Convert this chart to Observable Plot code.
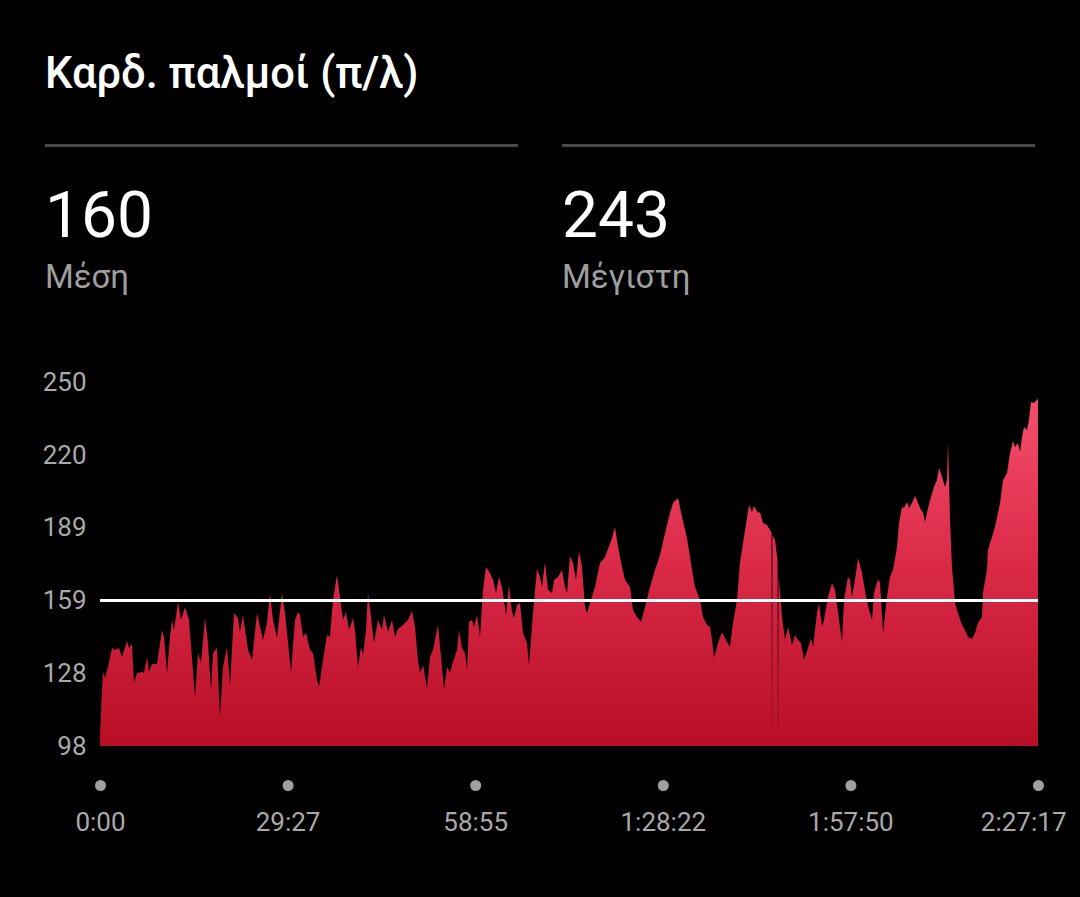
<!DOCTYPE html>
<html>
<head>
<meta charset="utf-8">
<script src="https://cdn.jsdelivr.net/npm/d3@7"></script>
<script src="https://cdn.jsdelivr.net/npm/@observablehq/plot@0.6"></script>
<style>
  html, body { margin: 0; padding: 0; background: #000; }
  body { width: 1080px; height: 897px; position: relative; overflow: hidden; font-family: Roboto, "Noto Sans", sans-serif; }
  .abs { position: absolute; line-height: 1; white-space: nowrap; }
  #title { left: 45px; top: 52px; font-size: 43.5px; font-weight: 500; color: #fff; }
  .sep { position: absolute; top: 144px; height: 3px; width: 473px; background: #474747; }
  .val { font-size: 64px; font-weight: 400; color: #fff; top: 184px; }
  .lab { font-size: 33px; color: #9e9e9e; top: 260px; }
  #chart { position: absolute; left: 0; top: 340px; }
</style>
</head>
<body>
<div id="title" class="abs"></div>
<div class="sep" style="left:45px"></div>
<div class="sep" style="left:562px"></div>
<div id="v1" class="abs val" style="left:45px"></div>
<div id="l1" class="abs lab" style="left:45px"></div>
<div id="v2" class="abs val" style="left:562px"></div>
<div id="l2" class="abs lab" style="left:562px"></div>
<div id="chart"></div>
<script>
// ---- text ----
const titleText = "Καρδ. παλμοί (π/λ)";
const statValues = ["160", "243"];
const statLabels = ["Μέση", "Μέγιστη"];

// ---- axes ----
const totalMinutes = 147.283; // 2:27:17
const xTickValues = [0, 29.457, 58.913, 88.370, 117.827, 147.283];
const xTickLabels = ["0:00", "29:27", "58:55", "1:28:22", "1:57:50", "2:27:17"];
const yDomain = [98, 250];
const yTickValues = [98, 128.4, 158.8, 189.2, 219.6, 250];
const yTickLabels = ["98", "128", "159", "189", "220", "250"];
const meanLineValue = 159;

// ---- series (minutes, bpm) ----
const timeMin = [0,0.31,0.47,0.79,1.26,1.88,2.36,2.98,3.45,4.24,4.55,5.02,5.34,5.81,6.59,6.91,7.38,7.69,8.17,8.95,9.74,10.05,10.52,10.99,11.31,11.62,12.25,12.72,13.35,13.97,14.92,15.39,15.86,16.49,16.96,17.43,17.74,18.37,18.84,19.31,19.94,20.41,21.04,21.67,21.98,22.45,23.24,23.87,24.65,25.59,26.22,26.69,27.16,27.79,28.58,29.05,29.99,30.62,31.09,31.40,31.88,32.35,32.97,33.45,34.07,34.39,35.02,35.64,36.11,36.59,37.21,37.68,38.16,38.63,39.10,39.73,40.04,40.51,40.98,41.30,41.77,42.08,42.55,43.02,43.65,44.28,44.59,45.22,45.85,46.32,46.79,47.58,48.36,48.99,49.46,49.93,50.25,50.72,51.35,51.82,52.29,53.07,53.70,54.02,54.49,54.96,55.27,56.06,56.37,56.84,57.31,57.63,57.94,58.41,58.73,59.20,59.67,60.14,60.61,61.24,61.71,62.18,62.65,63.12,63.75,64.22,64.69,65.01,65.48,65.95,66.42,67.05,67.36,67.99,68.62,69.09,69.40,69.87,70.34,70.97,71.29,71.92,72.54,73.01,73.33,73.80,74.27,74.74,75.21,75.68,76.15,76.47,76.94,77.72,78.51,79.30,79.77,80.39,80.87,81.34,81.96,82.44,83.22,83.69,84.32,84.95,85.58,86.36,87.15,87.93,88.72,89.50,89.97,90.76,91.39,92.17,92.96,93.43,94.21,94.68,95.31,95.78,96.10,96.41,97.04,97.66,98.29,98.92,99.39,100.02,100.49,101.28,101.91,102.38,102.69,103.32,103.63,104.10,104.73,105.20,105.44,105.51,105.59,105.99,106.38,106.46,106.54,107.09,107.56,108.03,108.66,109.13,109.60,110.07,110.54,111.17,111.64,111.96,112.58,112.90,113.37,113.68,114.31,114.94,115.41,115.88,116.51,116.82,117.45,117.77,118.08,118.71,119.02,119.65,120.28,120.75,121.22,121.53,122.16,122.48,122.95,123.57,124.04,124.51,125.15,125.46,125.93,126.24,126.71,127.03,127.50,127.97,128.44,128.91,129.23,129.54,130.01,130.48,130.95,131.42,131.74,132.21,132.68,133.00,133.15,133.47,133.78,134.25,134.72,135.35,135.82,136.29,136.92,137.39,137.86,138.49,138.64,139.27,139.43,140.06,140.53,141.00,141.32,141.79,142.42,142.89,143.36,143.67,144.14,144.46,144.77,145.08,145.55,145.87,146.18,146.66,147.28];
const bpm = [102.6,121.4,128.9,126.4,131.0,138.9,138.1,138.9,135.2,141.8,138.9,140.6,124.3,128.5,128.9,128.5,135.2,128.9,132.2,132.2,146.4,143.5,128.5,143.5,150.6,146.4,158.1,150.6,156.0,150.6,118.5,136.8,132.7,151.5,141.0,121.4,136.8,138.9,110.1,131.0,139.3,123.5,153.5,151.5,145.6,152.7,138.1,133.9,153.5,142.3,149.4,161.9,150.6,143.1,161.9,153.5,128.9,150.6,154.0,152.7,143.5,145.2,138.1,136.8,125.6,122.6,133.9,144.4,143.5,159.0,169.4,160.2,150.6,154.0,146.4,151.5,146.4,131.0,139.3,136.0,146.4,161.9,151.9,141.0,150.6,146.4,152.7,145.6,150.6,143.5,146.9,148.5,150.6,154.4,147.7,133.9,128.5,131.8,122.2,135.2,138.1,148.5,131.0,121.4,131.0,128.5,131.8,138.1,146.4,138.9,136.8,129.7,149.8,150.6,147.7,152.7,143.5,163.1,172.7,170.2,167.3,161.9,168.6,164.4,152.7,165.2,154.0,151.5,156.9,157.7,145.2,141.0,131.8,153.5,171.9,168.6,164.4,174.8,163.1,161.9,167.3,168.6,171.5,164.4,161.9,177.3,174.4,167.3,179.4,172.7,156.0,153.5,157.7,164.4,174.4,176.9,180.3,184.9,189.5,181.1,172.7,167.3,164.4,154.8,151.9,149.8,156.0,164.4,171.5,177.8,186.9,195.3,199.5,201.6,193.6,184.9,171.5,164.4,159.0,151.9,148.5,147.7,142.3,134.7,141.0,145.6,142.3,139.3,149.4,159.0,174.4,188.2,198.6,195.7,198.2,195.3,195.7,191.1,190.3,188.2,187.4,98,186.1,184.0,175.7,98,169.4,151.9,142.3,147.7,140.2,144.4,142.3,141.0,133.9,138.9,143.1,139.3,153.5,157.7,147.7,150.6,160.2,166.1,163.1,154.0,141.4,159.0,168.6,167.3,160.2,170.2,176.5,170.2,160.2,154.8,150.6,161.9,167.7,166.1,145.2,160.2,168.6,171.5,181.1,191.1,197.8,197.4,199.9,197.4,199.5,202.4,199.5,196.6,195.7,191.5,197.4,202.0,206.2,209.1,214.1,210.3,206.2,209.1,224.9,192.4,172.7,157.7,153.5,148.5,146.4,143.5,142.7,145.2,149.4,151.9,161.9,171.5,179.8,185.3,189.5,195.3,199.5,209.1,212.0,220.4,225.4,222.9,224.5,220.8,227.0,231.2,230.0,234.1,241.7,241.2,243];

if (timeMin.length !== bpm.length) throw new Error("length mismatch " + timeMin.length + " vs " + bpm.length);

document.getElementById("title").textContent = titleText;
document.getElementById("v1").textContent = statValues[0];
document.getElementById("v2").textContent = statValues[1];
document.getElementById("l1").textContent = statLabels[0];
document.getElementById("l2").textContent = statLabels[1];

const data = timeMin.map((t, i) => ({t, v: bpm[i]}));
const xTicks = xTickValues.map((t, i) => ({t, label: xTickLabels[i]}));
const lastIdx = xTicks.length - 1;

const W = 1080, H = 520, mTop = 42, mBottom = 114, mLeft = 100, mRight = 42;

const chart = Plot.plot({
  width: W,
  height: H,
  marginTop: mTop,
  marginBottom: mBottom,
  marginLeft: mLeft,
  marginRight: mRight,
  style: {background: "#000", color: "#a9a9a9", fontSize: "26px", fontFamily: "Roboto, sans-serif", overflow: "visible"},
  x: {domain: [0, totalMinutes], axis: null},
  y: {domain: yDomain, ticks: yTickValues, tickSize: 0, tickPadding: 14,
      tickFormat: d => yTickLabels[yTickValues.indexOf(d)], label: null},
  marks: [
    Plot.areaY(data, {x: "t", y1: () => yDomain[0], y2: "v", fill: "url(#hrGrad)", curve: "linear"}),
    Plot.ruleY([meanLineValue], {stroke: "#fff", strokeWidth: 3}),
    Plot.dot(xTicks, {x: "t", frameAnchor: "bottom", dy: 39, r: 5.5, fill: "#a0a0a0", stroke: "none"}),
    Plot.text(xTicks.slice(0, lastIdx), {x: "t", text: "label", frameAnchor: "bottom", dy: 84, fill: "#a9a9a9", fontSize: 26, textAnchor: "middle"}),
    Plot.text(xTicks.slice(lastIdx), {x: "t", text: "label", frameAnchor: "bottom", dy: 84, dx: 28, fill: "#a9a9a9", fontSize: 26, textAnchor: "end"})
  ]
});

const ns = "http://www.w3.org/2000/svg";
const defs = document.createElementNS(ns, "defs");
const grad = document.createElementNS(ns, "linearGradient");
grad.setAttribute("id", "hrGrad");
grad.setAttribute("gradientUnits", "userSpaceOnUse");
grad.setAttribute("x1", "0"); grad.setAttribute("x2", "0");
grad.setAttribute("y1", String(mTop)); grad.setAttribute("y2", String(H - mBottom));
[["0", "#f8536f"], ["0.5", "#da2a48"], ["1", "#b80e25"]].forEach(([o, c]) => {
  const s = document.createElementNS(ns, "stop");
  s.setAttribute("offset", o); s.setAttribute("stop-color", c);
  grad.appendChild(s);
});
defs.appendChild(grad);
chart.insertBefore(defs, chart.firstChild);
document.getElementById("chart").appendChild(chart);
</script>
</body>
</html>
